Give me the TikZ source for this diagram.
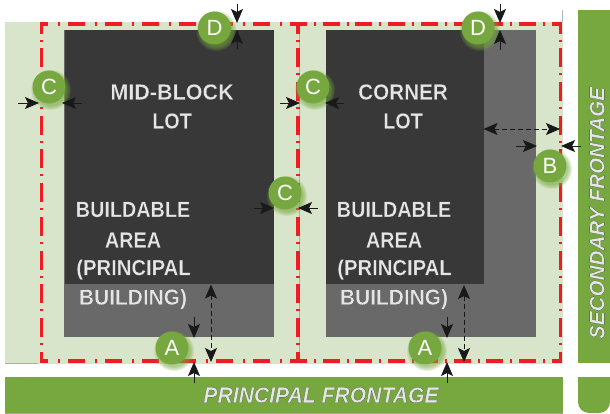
\documentclass[tikz,border=0pt]{standalone}
\usepackage{fontspec}
\setmainfont{Liberation Sans}
\usetikzlibrary{arrows.meta}
\definecolor{lotgreen}{HTML}{D9E5CA}
\definecolor{moss}{HTML}{76A83F}
\definecolor{darkfill}{HTML}{383838}
\definecolor{greyfill}{HTML}{696969}
\definecolor{setback}{HTML}{EE1C25}
\definecolor{edgegrey}{HTML}{A8B29C}
\newcommand{\outlinedon}[1]{\addfontfeature{FakeBold=0.45,FakeStretch=#1}\special{pdf:bc [0.90 0.90 0.90] [0.14 0.14 0.14]}}
\newcommand{\outlinedoff}{\special{pdf:ec}}
\newcommand{\badgeglow}[2]{\foreach \rr in {20,19,18,17,16}{\fill[moss,opacity=.16] (#1+2,#2+3) circle (\rr pt);}}
\tikzset{
  x=1pt,y=-1pt,
  redh/.style={draw=setback,line width=3.2pt},
  dim/.style={draw=black!90,line width=.8pt,-{Stealth[length=14pt,width=12pt,inset=3pt]}},
  dimdash/.style={draw=black!90,line width=.8pt,dash pattern=on 5pt off 3pt,{Stealth[length=14pt,width=12pt,inset=3pt]}-{Stealth[length=14pt,width=12pt,inset=3pt]}},
  badge/.style={circle,fill=moss,text=white,minimum size=33pt,inner sep=0pt,font=\fontsize{22}{24}\selectfont},
  lotlabel/.style={align=center,inner sep=0pt,font=\fontsize{22}{26}\selectfont\bfseries,execute at begin node={\outlinedon{#1}},execute at end node={\outlinedoff}},
  frontlabel/.style={inner sep=0pt,font=\fontsize{22}{26}\selectfont\bfseries\itshape,execute at begin node={\outlinedon{#1}},execute at end node={\outlinedoff}},
}
\begin{document}
\begin{tikzpicture}
\useasboundingbox (0,0) rectangle (610,414);
% ground
\fill[lotgreen] (5,22) rectangle (562.5,363.5);
\draw[edgegrey,line width=1pt] (299.8,22) -- (299.8,363);
\draw[edgegrey,line width=.8pt] (5,363.5) -- (38,363.5);
\draw[gray!60,line width=.8pt] (562.5,10) -- (562.5,22);
% frontages
\fill[moss] (577.5,10) rectangle (610,363);
\fill[moss] (5,376.5) rectangle (562.5,413);
\fill[moss] (578,377) -- (610,377) -- (610,402) [rounded corners=11pt] -- (610,413) -- (578,413) [sharp corners] -- cycle;
\draw[gray!70,line width=1pt] (5,413.5) -- (562.5,413.5);
% lots
\fill[greyfill] (64,30) rectangle (274,337);
\fill[darkfill] (64.5,30) rectangle (274,284);
\fill[greyfill] (326,30) rectangle (536,337);
\fill[darkfill] (326,30) rectangle (483.5,284);
% setback lines
\draw[redh,dash pattern=on 17pt off 10pt on 2pt off 8pt,dash phase=9.5pt] (40,24) -- (298,24);
\draw[redh,dash pattern=on 17pt off 10pt on 2pt off 8pt,dash phase=9.5pt] (40,361) -- (298,361);
\draw[redh,dash pattern=on 17pt off 7pt on 2pt off 6.7pt,dash phase=8pt] (298,24) -- (562,24);
\draw[redh,dash pattern=on 17pt off 7pt on 2pt off 6.7pt,dash phase=8pt] (298,361) -- (562,361);
\foreach \xx in {41.5,298,560.5}{
  \draw[redh,dash pattern=on 19pt off 6pt on 2pt off 6.7pt,dash phase=9.3pt] (\xx,24) -- (\xx,362);
}
% glows
\badgeglow{214.5}{28}\badgeglow{49}{87}\badgeglow{313}{87}\badgeglow{285}{193}
\badgeglow{478}{28}\badgeglow{550}{166}\badgeglow{172}{348}\badgeglow{425}{348}
% dimension arrows
\coordinate (d1a) at (237,4);   \coordinate (d1b) at (237,23);
\coordinate (d1c) at (237,49);  \coordinate (d1d) at (237,30);
\coordinate (d2a) at (500,4);   \coordinate (d2b) at (500,23);
\coordinate (d2c) at (500,50);  \coordinate (d2d) at (500,30);
\draw[dim] (d1a) -- (d1b); \draw[dim] (d1c) -- (d1d);
\draw[dim] (d2a) -- (d2b); \draw[dim] (d2c) -- (d2d);
\draw[dim] (18,103) -- (39,103);   \draw[dim] (82,103) -- (62,103);
\draw[dim] (280,103) -- (300,103); \draw[dim] (344,103) -- (325,103);
\draw[dim] (254,208) -- (274,208); \draw[dim] (318,208) -- (298,208);
\draw[dim] (516,146) -- (537,146); \draw[dim] (581,146) -- (561,146);
\draw[dimdash] (483.5,129) -- (560,129);
\draw[dim] (194,317) -- (194,338); \draw[dim] (194,383) -- (194,362);
\draw[dimdash] (211,284.5) -- (211,362);
\draw[dim] (447,317) -- (447,338); \draw[dim] (447,383) -- (447,362);
\draw[dimdash] (464,285) -- (464,362);
% badges
\node[badge] (dl) at (214.5,28) {D};
\node[badge] (cl) at (49,87) {C};
\node[badge] (cm) at (313,87) {C};
\node[badge] (cc) at (285,193) {C};
\node[badge] (dr) at (478,28) {D};
\node[badge] (br) at (550,166) {B};
\node[badge] (al) at (172,348) {A};
\node[badge] (ar) at (425,348) {A};
% labels
\node[lotlabel=0.98] (midb) at (172,92) {MID-BLOCK};
\node[lotlabel=0.9] (midl) at (172,121) {LOT};
\node[lotlabel=0.94] (corb) at (403,92) {CORNER};
\node[lotlabel=0.9] (corl) at (403,121) {LOT};
\node[lotlabel=0.9] (l1) at (133,209.5) {BUILDABLE};
\node[lotlabel=0.9] (l2) at (133,240) {AREA};
\node[lotlabel=0.92] (l3) at (133.5,269.5) {(PRINCIPAL};
\node[lotlabel=0.95] (l4) at (133,299) {BUILDING)};
\node[lotlabel=0.9] (r1) at (394,209.5) {BUILDABLE};
\node[lotlabel=0.9] (r2) at (394,240) {AREA};
\node[lotlabel=0.92] (r3) at (394.5,269.5) {(PRINCIPAL};
\node[lotlabel=0.95] (r4) at (394,299) {BUILDING)};
\node[frontlabel=0.96] (pf) at (321,395) {PRINCIPAL FRONTAGE};
\node[frontlabel=0.985,rotate=90,font=\fontsize{21}{26}\selectfont\bfseries\itshape] (sf) at (597,213) {SECONDARY FRONTAGE};
\end{tikzpicture}
\end{document}
